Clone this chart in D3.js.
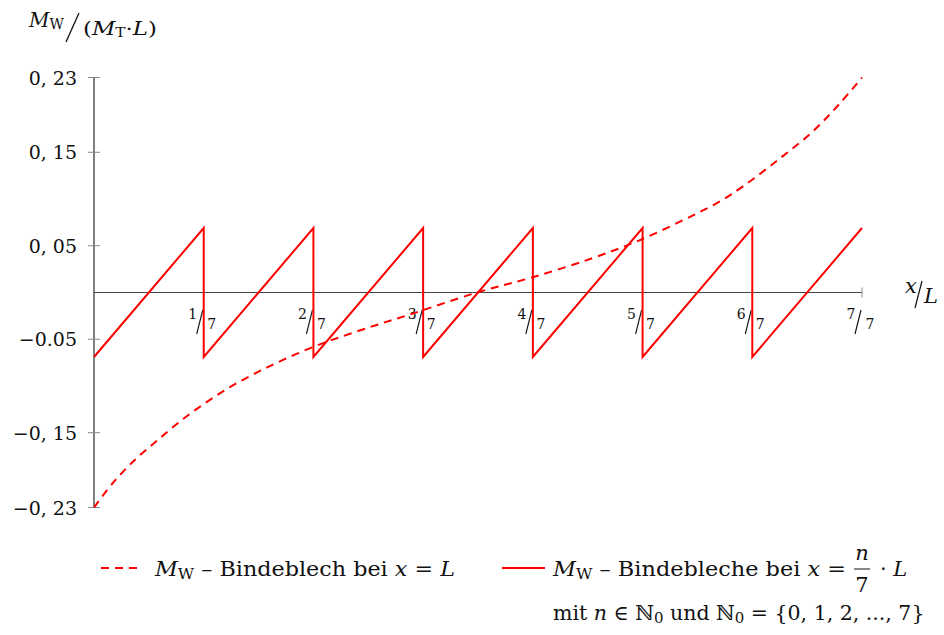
<!DOCTYPE html>
<html><head><meta charset="utf-8">
<script src="https://cdn.jsdelivr.net/npm/d3@7"></script>
<style>
body{margin:0;background:#fff}
svg{font-family:"DejaVu Serif","Liberation Serif",serif;fill:#111}
.it{font-style:italic}
</style></head>
<body><svg id="chart" width="944" height="635"></svg>
<script>
// y-axis ticks and their printed labels
const yTicks = [0.23, 0.15, 0.05, -0.05, -0.15, -0.23];
const yTickLabels = ["0, 23", "0, 15", "0, 05", "\u22120.05", "\u22120, 15", "\u22120, 23"];
// x-axis ticks as numerators of n/7
const xTickNums = [1, 2, 3, 4, 5, 6, 7];

// bending moment, one tie plate at x = L (dashed)
const singleX = [0, 0.0247, 0.0534, 0.0833, 0.1146, 0.1471, 0.1797, 0.2135, 0.2461, 0.2852, 0.3073, 0.3594, 0.4076, 0.4987, 0.5677, 0.6458, 0.7109, 0.7799, 0.8151, 0.8451, 0.8932, 0.9362, 0.9714, 1];
const singleY = [-0.23, -0.2036, -0.179, -0.1576, -0.1362, -0.117, -0.0999, -0.085, -0.0721, -0.0583, -0.0515, -0.037, -0.0245, 0, 0.0155, 0.0358, 0.0561, 0.0825, 0.0975, 0.1135, 0.1435, 0.1725, 0.2025, 0.23];

// bending moment, tie plates at x = n/7 * L (solid sawtooth)
const multiX = [0, 1/7, 1/7, 2/7, 2/7, 3/7, 3/7, 4/7, 4/7, 5/7, 5/7, 6/7, 6/7, 1];
const multiY = [-0.069, 0.069, -0.069, 0.069, -0.069, 0.069, -0.069, 0.069, -0.069, 0.069, -0.069, 0.069, -0.069, 0.069];

const svg = d3.select("#chart");
const x = d3.scaleLinear().domain([0, 1]).range([94, 862]);
const y = d3.scaleLinear().domain([-0.23, 0.23]).range([507.5, 77.5]);
const red = "#ff0000";

// y axis
const yAxis = svg.append("g");
yAxis.append("line").attr("x1", x(0)).attr("x2", x(0))
  .attr("y1", y(0.23)).attr("y2", y(-0.23)).attr("stroke", "#000").attr("stroke-width", 1);
yTicks.forEach((t, i) => {
  yAxis.append("line").attr("x1", x(0) - 6).attr("x2", x(0) + 6)
    .attr("y1", y(t)).attr("y2", y(t)).attr("stroke", "#888").attr("stroke-width", 1);
  yAxis.append("text").attr("x", 77).attr("y", y(t) + 7)
    .attr("text-anchor", "end").attr("font-size", 19).text(yTickLabels[i]);
});

// x axis
const xAxis = svg.append("g");
xAxis.append("line").attr("x1", x(0)).attr("x2", x(1))
  .attr("y1", y(0)).attr("y2", y(0)).attr("stroke", "#444").attr("stroke-width", 1);
xTickNums.forEach(n => {
  const px = x(n / 7);
  xAxis.append("line").attr("x1", px).attr("x2", px)
    .attr("y1", y(0) - 5).attr("y2", y(0) + 5).attr("stroke", "#888").attr("stroke-width", 1);
  const g = xAxis.append("g").attr("transform", `translate(${px},0)`);
  g.append("text").attr("x", -11).attr("y", 319).attr("text-anchor", "middle").attr("font-size", 14).text(n);
  g.append("line").attr("x1", -7).attr("y1", 334).attr("x2", -1).attr("y2", 310)
    .attr("stroke", "#111").attr("stroke-width", 1.1);
  g.append("text").attr("x", 8).attr("y", 329).attr("text-anchor", "middle").attr("font-size", 14).text(7);
});

// x axis title x/L
svg.append("text").attr("x", 905).attr("y", 293).attr("class", "it").attr("font-size", 21).text("x");
svg.append("line").attr("x1", 915).attr("y1", 308).attr("x2", 922).attr("y2", 281).attr("stroke", "#111").attr("stroke-width", 1.2);
svg.append("text").attr("x", 924).attr("y", 303).attr("class", "it").attr("font-size", 21).text("L");

// y axis title M_W/(M_T·L)
const yt = svg.append("text").attr("x", 29).attr("y", 27).attr("font-size", 20);
yt.append("tspan").attr("class", "it").text("M");
yt.append("tspan").attr("font-size", 14).attr("dy", 2).text("W");
svg.append("line").attr("x1", 66).attr("y1", 42).attr("x2", 79).attr("y2", 13).attr("stroke", "#111").attr("stroke-width", 1.3);
const yt2 = svg.append("text").attr("x", 83).attr("y", 35).attr("font-size", 18)
  .attr("textLength", 74).attr("lengthAdjust", "spacingAndGlyphs");
yt2.append("tspan").text("(");
yt2.append("tspan").attr("class", "it").text("M");
yt2.append("tspan").attr("font-size", 12).attr("dy", 2).text("T");
yt2.append("tspan").attr("dy", -2).text("\u00b7");
yt2.append("tspan").attr("class", "it").text("L");
yt2.append("tspan").text(")");

// curves
const line = d3.line().x(d => x(d[0])).y(d => y(d[1]));
svg.append("path").datum(singleX.map((v, i) => [v, singleY[i]]))
  .attr("d", line.curve(d3.curveCatmullRom))
  .attr("fill", "none").attr("stroke", red).attr("stroke-width", 2).attr("stroke-dasharray", "8,6");
svg.append("path").datum(multiX.map((v, i) => [v, multiY[i]]))
  .attr("d", d3.line().x(d => x(d[0])).y(d => y(d[1])))
  .attr("fill", "none").attr("stroke", red).attr("stroke-width", 2);

// legend
const lg = svg.append("g");
lg.append("line").attr("x1", 101).attr("x2", 142).attr("y1", 568).attr("y2", 568)
  .attr("stroke", red).attr("stroke-width", 2).attr("stroke-dasharray", "8,6");
const l1 = lg.append("text").attr("x", 155).attr("y", 576).attr("font-size", 21)
  .attr("textLength", 300).attr("lengthAdjust", "spacingAndGlyphs");
l1.append("tspan").attr("class", "it").text("M");
l1.append("tspan").attr("font-size", 15).attr("dy", 3).text("W");
l1.append("tspan").attr("dy", -3).text(" \u2013 Bindeblech bei ");
l1.append("tspan").attr("class", "it").text("x");
l1.append("tspan").text(" = ");
l1.append("tspan").attr("class", "it").text("L");

lg.append("line").attr("x1", 502).attr("x2", 545).attr("y1", 568).attr("y2", 568)
  .attr("stroke", red).attr("stroke-width", 2);
const l2 = lg.append("text").attr("x", 553).attr("y", 576).attr("font-size", 21)
  .attr("textLength", 293).attr("lengthAdjust", "spacingAndGlyphs");
l2.append("tspan").attr("class", "it").text("M");
l2.append("tspan").attr("font-size", 15).attr("dy", 3).text("W");
l2.append("tspan").attr("dy", -3).text(" \u2013 Bindebleche bei ");
l2.append("tspan").attr("class", "it").text("x");
l2.append("tspan").text(" =");
// fraction n/7
lg.append("text").attr("x", 862).attr("y", 560).attr("text-anchor", "middle").attr("class", "it").attr("font-size", 21).text("n");
lg.append("line").attr("x1", 854).attr("x2", 870).attr("y1", 569).attr("y2", 569).attr("stroke", "#111").attr("stroke-width", 1);
lg.append("text").attr("x", 862).attr("y", 592).attr("text-anchor", "middle").attr("font-size", 21).text("7");
const l2b = lg.append("text").attr("x", 880).attr("y", 576).attr("font-size", 21);
l2b.append("tspan").text("\u00b7 ");
l2b.append("tspan").attr("class", "it").text("L");
const l3 = lg.append("text").attr("x", 553).attr("y", 620).attr("font-size", 20.5);
l3.append("tspan").text("mit ");
l3.append("tspan").attr("class", "it").text("n");
l3.append("tspan").text(" \u2208 \u2115");
l3.append("tspan").attr("font-size", 15).attr("dy", 3).text("0");
l3.append("tspan").attr("dy", -3).text(" und \u2115");
l3.append("tspan").attr("font-size", 15).attr("dy", 3).text("0");
l3.append("tspan").attr("dy", -3).text(" = {0, 1, 2, ..., 7}");
</script></body></html>
